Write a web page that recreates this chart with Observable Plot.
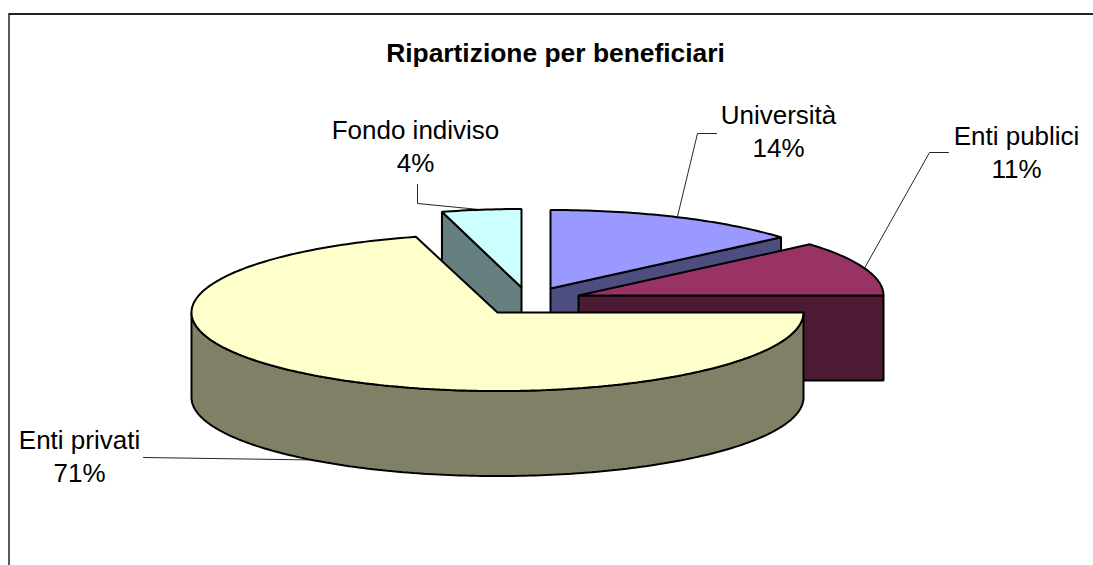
<!DOCTYPE html>
<html>
<head>
<meta charset="utf-8">
<script src="https://cdn.jsdelivr.net/npm/d3@7"></script>
<script src="https://cdn.jsdelivr.net/npm/@observablehq/plot@0.6"></script>
<style>
html,body{margin:0;padding:0;background:#fff}
svg{display:block}
</style>
</head>
<body>
<div id="chart"></div>
<script>
// Data (clockwise from 12 o'clock)
const title = "Ripartizione per beneficiari";
const categories = ["Università", "Enti publici", "Enti privati", "Fondo indiviso"];
const shares = [13.7, 11.3, 70.7, 4.3];

// Styles
const topColors = ["#9999FF", "#993366", "#FFFFCC", "#CCFFFF"];
const sideColors = ["#4D4D80", "#4D1A33", "#808066", "#668080"];

// Layout of the exploded 3D pie
const radiusX = [304, 305, 306, 298];
const ry = 78.5, depth = 85;
const centerX = [550, 578, 497, 521];
const centerY = [288, 295, 312, 287];
const labelX = [778, 1016, 79, 415];
const labelY = [115, 136, 440, 130];
const elbowX = [[716, 697], [948, 929], [143], [417, 417]];
const elbowY = [[133, 133], [152, 152], [457], [184, 203]];
const lineGap = 33.5;
const fontSize = 26;

const W = 1093, H = 565;
const rad = d => d * Math.PI / 180;
const point = (i, deg, dz = 0) => ({
  x: centerX[i] + radiusX[i] * Math.sin(rad(deg)),
  y: centerY[i] - ry * Math.cos(rad(deg)) + dz
});
const cum = d3.cumsum(shares);
const startDeg = i => (i ? cum[i - 1] : 0) * 3.6;
const endDeg = i => cum[i] * 3.6;
const arc = (i, a, b, dz = 0) => {
  const n = Math.max(2, Math.ceil(Math.abs(b - a)));
  return d3.range(n + 1).map(k => point(i, a + (b - a) * k / n, dz));
};
const apex = (i, dz = 0) => ({x: centerX[i], y: centerY[i] + dz});

const topFace = i => [apex(i), ...arc(i, startDeg(i), endDeg(i))];
// The flat cut face that is visible for each slice
const cutFace = (i, deg) => {
  const p = point(i, deg);
  return [apex(i), p, {x: p.x, y: p.y + depth}, apex(i, depth)];
};
// The outer rim, front half only
const rimFace = (i, a, b) => [...arc(i, a, b), ...arc(i, b, a, depth)];

const U = 0, P = 1, R = 2, F = 3;
const poly = (pts, fill) => Plot.line(pts, {
  x: "x", y: "y", fill, stroke: "#000", strokeWidth: 2,
  curve: "linear-closed", strokeLinejoin: "miter"
});

const painter = [
  poly(cutFace(U, endDeg(U)), sideColors[U]),
  poly(topFace(U), topColors[U]),
  poly(cutFace(F, startDeg(F)), sideColors[F]),
  poly(topFace(F), topColors[F]),
  poly(cutFace(P, endDeg(P)), sideColors[P]),
  poly(topFace(P), topColors[P]),
  poly(rimFace(R, startDeg(R), 270), sideColors[R]),
  poly(topFace(R), topColors[R])
];

// Leader lines end on the rim at each slice's middle angle
const leaders = categories.map((c, i) => {
  const mid = (startDeg(i) + endDeg(i)) / 2;
  const end = point(i, mid, i === R ? depth : 0);
  const pts = elbowX[i].map((x, k) => ({x, y: elbowY[i][k]}));
  return Plot.line([...pts, end], {x: "x", y: "y", stroke: "#000", strokeWidth: 1, strokeOpacity: 0.85});
});

const labels = categories.flatMap((c, i) => [
  {x: labelX[i], y: labelY[i], t: c},
  {x: labelX[i], y: labelY[i] + lineGap, t: Math.round(shares[i]) + "%"}
]);

const chart = Plot.plot({
  width: W, height: H,
  margin: 0,
  style: {background: "#fff", fontFamily: "'Liberation Sans', Arial, sans-serif"},
  x: {domain: [0, W], range: [0, W], axis: null},
  y: {domain: [0, H], range: [0, H], axis: null},
  marks: [
    Plot.ruleY([13.5], {x1: 9, x2: W, stroke: "#222", strokeWidth: 2}),
    Plot.ruleX([8.5], {y1: 13, y2: H, stroke: "#222", strokeWidth: 1.5}),
    ...painter,
    ...leaders,
    Plot.text(labels, {x: "x", y: "y", text: "t", fontSize, fill: "#000", textAnchor: "middle", lineAnchor: "middle"}),
    Plot.text([title], {x: () => 555, y: () => 53, fontSize: 26.4, fontWeight: "bold", fill: "#000", textAnchor: "middle", lineAnchor: "middle"})
  ]
});
document.getElementById("chart").appendChild(chart);
</script>
</body>
</html>
